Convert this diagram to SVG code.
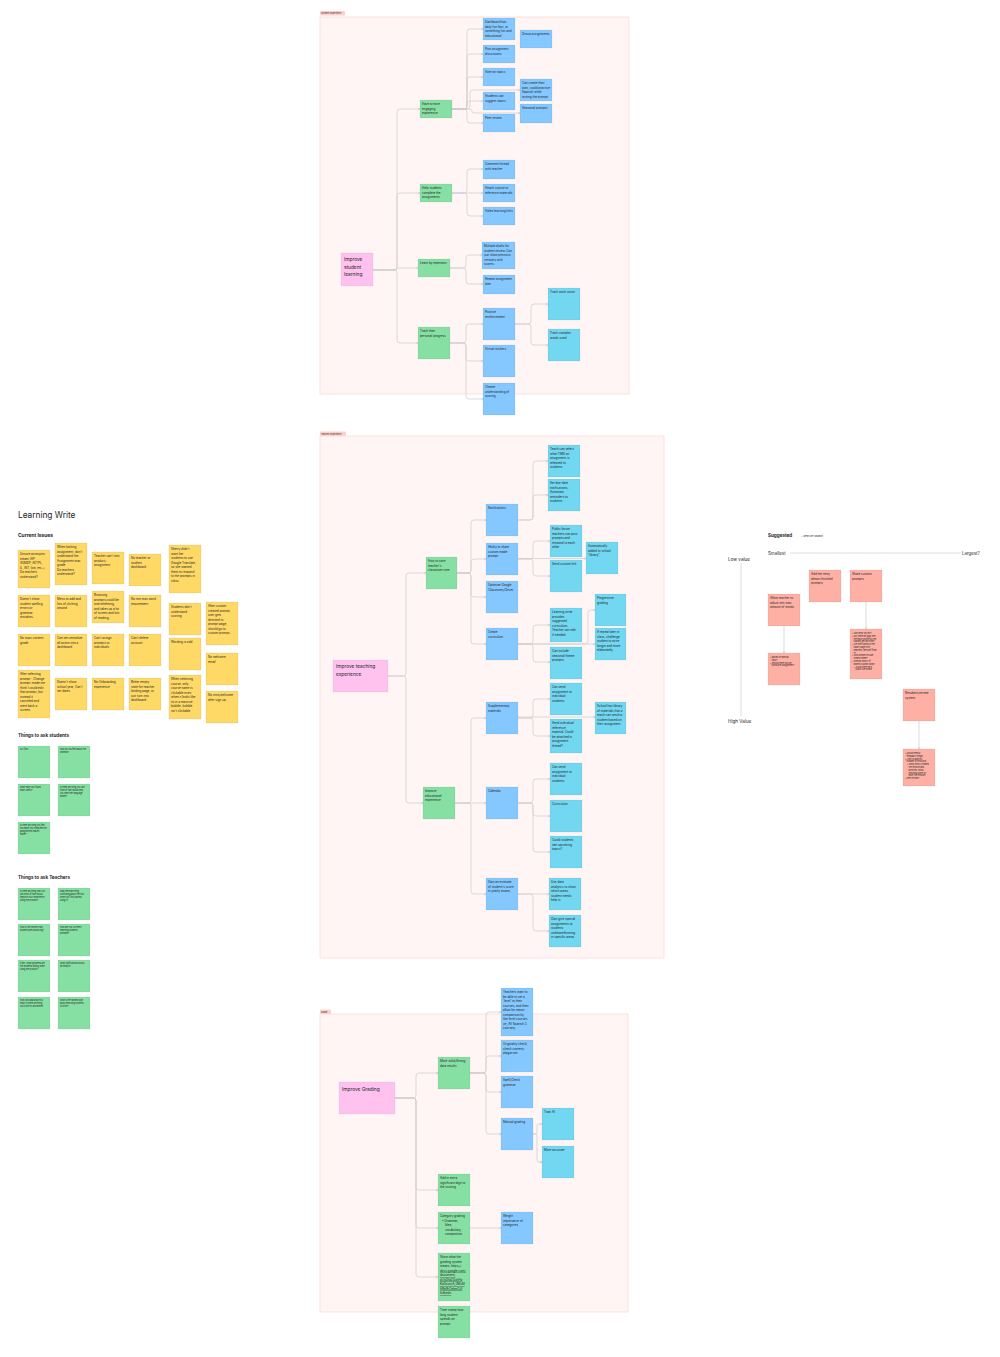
<svg xmlns="http://www.w3.org/2000/svg" width="1000" height="1357" viewBox="0 0 1000 1357">
<defs>
<style>
.fr{fill:#FFF5F4;stroke:#FDDAD5;stroke-width:0.8}
.tag{fill:#FFCFCA}
.tg{font-family:Inter,'Liberation Sans',sans-serif;font-size:2.2px;fill:#333}
.b{fill:#84C8FF;stroke:rgba(0,0,0,0.12);stroke-width:0.4}
.c{fill:#72D7F0;stroke:rgba(0,0,0,0.12);stroke-width:0.4}
.g{fill:#86E0A3;stroke:rgba(0,0,0,0.12);stroke-width:0.4}
.p{fill:#FFC1EE;stroke:rgba(0,0,0,0.1);stroke-width:0.4}
.y{fill:#FFD966;stroke:rgba(0,0,0,0.14);stroke-width:0.4}
.s{fill:#FFB0A5;stroke:rgba(0,0,0,0.14);stroke-width:0.4}
.t{font-family:Inter,'Liberation Sans',sans-serif;font-size:3px;fill:#1e1e1e}
.ts{font-family:Inter,'Liberation Sans',sans-serif;font-size:2.1px;fill:#1e1e1e}
.tp{font-family:Inter,'Liberation Sans',sans-serif;font-size:4.8px;fill:#1e1e1e}
.h{font-family:Inter,'Liberation Sans',sans-serif;font-weight:bold;fill:#1e1e1e}
.l{font-family:Inter,'Liberation Sans',sans-serif;fill:#1e1e1e}
.e{fill:none;stroke:#CDCDCD;stroke-width:0.7;marker-end:url(#ah)}
.ax{fill:none;stroke:#DADADA;stroke-width:0.9}
</style>
<marker id="ah" markerUnits="userSpaceOnUse" markerWidth="3" markerHeight="3" refX="2.6" refY="1.5" orient="auto">
<path d="M0.4,0.3 L2.6,1.5 L0.4,2.7" fill="none" stroke="#C4C4C4" stroke-width="0.5"/>
</marker>
</defs>
<rect width="1000" height="1357" fill="#FFFFFF"/>

<g id="frames">
<rect class="fr" x="320" y="17" width="309" height="377"/>
<rect class="tag" x="320" y="11" width="25" height="4.5" rx="1"/>
<text class="tg" x="321" y="14.2">Student Experience</text>
<rect class="fr" x="320" y="436" width="344" height="522"/>
<rect class="tag" x="320" y="431.5" width="26" height="4.5" rx="1"/>
<text class="tg" x="321" y="434.7">Teacher Experience</text>
<rect class="fr" x="320" y="1014" width="308" height="298"/>
<rect class="tag" x="320" y="1009.5" width="11" height="4.5" rx="1"/>
<text class="tg" x="321" y="1012.7">Grade</text>
</g>

<g id="connectors">
<path class="e" d="M373 270 H394 Q397 270 397 267 V112 Q397 109 400 109 H420"/>
<path class="e" d="M373 270 H394 Q397 270 397 267 V196 Q397 193 400 193 H420"/>
<path class="e" d="M373 270 H396 Q397 270 397 269 Q397 268 399 268 H418"/>
<path class="e" d="M373 270 H394 Q397 270 397 273 V340 Q397 343 400 343 H418"/>
<path class="e" d="M452 109 H464 Q467 109 467 106 V32 Q467 29 470 29 H483"/>
<path class="e" d="M452 109 H464 Q467 109 467 106 V57 Q467 54 470 54 H483"/>
<path class="e" d="M452 109 H464 Q467 109 467 106 V80 Q467 77 470 77 H483"/>
<path class="e" d="M452 109 H464 Q467 109 467 106 V104 Q467 101 470 101 H483"/>
<path class="e" d="M452 109 H464 Q467 109 467 112 V120 Q467 123 470 123 H483"/>
<path class="e" d="M452 109 H467 Q470 109 470 106 V93 Q470 90 473 90 H520"/>
<path class="e" d="M452 109 H469 Q472 109 472 111 Q472 113 474 113 H520"/>
<path class="e" d="M452 193 H464 Q467 193 467 190 V172 Q467 169 470 169 H483"/>
<path class="e" d="M452 193 H483"/>
<path class="e" d="M452 193 H464 Q467 193 467 196 V213 Q467 216 470 216 H483"/>
<path class="e" d="M450 268 H463 Q466 268 466 265 V258 Q466 255 469 255 H482"/>
<path class="e" d="M450 268 H463 Q466 268 466 271 V281 Q466 284 469 284 H483"/>
<path class="e" d="M450 343 H463 Q466 343 466 340 V327 Q466 324 469 324 H483"/>
<path class="e" d="M450 343 H463 Q466 343 466 346 V358 Q466 361 469 361 H483"/>
<path class="e" d="M450 343 H463 Q466 343 466 346 V396 Q466 399 469 399 H483"/>
<path class="e" d="M515 324 H528 Q531 324 531 321 V307 Q531 304 534 304 H548"/>
<path class="e" d="M515 324 H528 Q531 324 531 327 V342 Q531 345 534 345 H548"/>

<path class="e" d="M388 676 H403 Q406 676 406 673 V576 Q406 573 409 573 H426"/>
<path class="e" d="M388 676 H403 Q406 676 406 679 V800 Q406 803 409 803 H423"/>
<path class="e" d="M457 573 H468 Q471 573 471 570 V523 Q471 520 474 520 H486"/>
<path class="e" d="M457 573 H468 Q471 573 471 570 V562 Q471 559 474 559 H486"/>
<path class="e" d="M457 573 H468 Q471 573 471 576 V594 Q471 597 474 597 H486"/>
<path class="e" d="M457 573 H468 Q471 573 471 576 V641 Q471 644 474 644 H486"/>
<path class="e" d="M455 803 H468 Q471 803 471 800 V721 Q471 718 474 718 H486"/>
<path class="e" d="M455 803 H486"/>
<path class="e" d="M455 803 H468 Q471 803 471 806 V891 Q471 894 474 894 H486"/>
<path class="e" d="M518 520 H530 Q533 520 533 517 V464 Q533 461 536 461 H548"/>
<path class="e" d="M518 520 H530 Q533 520 533 517 V498 Q533 495 536 495 H548"/>
<path class="e" d="M518 559 H530 Q533 559 533 556 V544 Q533 541 536 541 H550"/>
<path class="e" d="M518 559 H530 Q533 559 533 562 V573 Q533 576 536 576 H550"/>
<path class="e" d="M518 558.5 H586"/>
<path class="e" d="M518 644 H530 Q533 644 533 641 V628 Q533 625 536 625 H550"/>
<path class="e" d="M518 644 H530 Q533 644 533 647 V659 Q533 662 536 662 H550"/>
<path class="e" d="M518 644 H585 Q588 644 588 641 V613 Q588 610 591 610 H595"/>
<path class="e" d="M518 644 H595"/>
<path class="e" d="M518 718 H530 Q533 718 533 715 V702 Q533 699 536 699 H550"/>
<path class="e" d="M518 718 H530 Q533 718 533 721 V733 Q533 736 536 736 H550"/>
<path class="e" d="M518 717 H595"/>
<path class="e" d="M518 803 H530 Q533 803 533 800 V782 Q533 779 536 779 H550"/>
<path class="e" d="M518 803 H530 Q533 803 533 806 V813 Q533 816 536 816 H550"/>
<path class="e" d="M518 803 H530 Q533 803 533 806 V849 Q533 852 536 852 H550"/>
<path class="e" d="M518 894 H549"/>
<path class="e" d="M518 894 H530 Q533 894 533 897 V928 Q533 931 536 931 H549"/>

<path class="e" d="M395 1098 H413 Q416 1098 416 1095 V1076 Q416 1073 419 1073 H438"/>
<path class="e" d="M395 1098 H413 Q416 1098 416 1101 V1187 Q416 1190 419 1190 H438"/>
<path class="e" d="M395 1098 H413 Q416 1098 416 1101 V1225 Q416 1228 419 1228 H438"/>
<path class="e" d="M395 1098 H413 Q416 1098 416 1101 V1274 Q416 1277 419 1277 H438"/>
<path class="e" d="M470 1073 H483 Q486 1073 486 1070 V1015 Q486 1012 489 1012 H501"/>
<path class="e" d="M470 1073 H483 Q486 1073 486 1070 V1059 Q486 1056 489 1056 H501"/>
<path class="e" d="M470 1073 H483 Q486 1073 486 1076 V1089 Q486 1092 489 1092 H501"/>
<path class="e" d="M470 1073 H483 Q486 1073 486 1076 V1131 Q486 1134 489 1134 H501"/>
<path class="e" d="M533 1134 H535 Q537 1134 537 1132 V1126 Q537 1124 539 1124 H542"/>
<path class="e" d="M533 1134 H535 Q537 1134 537 1136 V1160 Q537 1162 539 1162 H542"/>
<path class="e" d="M470 1228 H501"/>

<path class="e" d="M784 625 V653"/>
<path class="e" d="M866 601 V629"/>
<path class="e" d="M919 721 V749"/>
<path class="ax" d="M790 553 H961"/>
<path class="ax" d="M741 563 V716"/>
</g>

<!-- Student Experience -->
<g id="n-improve-student"><rect class="p" x="341" y="253" width="32" height="33"/><text class="tp" x="344" y="261"><tspan x="344">Improve</tspan><tspan x="344" dy="7.5">student</tspan><tspan x="344" dy="7.5">learning</tspan></text></g>
<g id="n-engaging"><rect class="g" x="420" y="100" width="32" height="18"/><text class="t" x="422" y="105"><tspan x="422">Have a more</tspan><tspan x="422" dy="4.5">engaging</tspan><tspan x="422" dy="4.5">experience</tspan></text></g>
<g id="n-help"><rect class="g" x="420" y="184" width="32" height="18"/><text class="t" x="422" y="189"><tspan x="422">Help students</tspan><tspan x="422" dy="4.5">complete the</tspan><tspan x="422" dy="4.5">assignments</tspan></text></g>
<g id="n-learn"><rect class="g" x="418" y="259" width="32" height="18"/><text class="t" x="420" y="264">Learn by repetition</text></g>
<g id="n-track"><rect class="g" x="418" y="327" width="32" height="32"/><text class="t" x="420" y="332"><tspan x="420">Track their</tspan><tspan x="420" dy="4.5">personal progress</tspan></text></g>
<g id="n-dashboard"><rect class="b" x="483" y="18" width="32" height="22"/><text class="t" x="485" y="23"><tspan x="485">Dashboard has</tspan><tspan x="485" dy="4.5">daily fun fact, or</tspan><tspan x="485" dy="4.5">something fun and</tspan><tspan x="485" dy="4.5">educational</tspan></text></g>
<g id="n-post"><rect class="b" x="483" y="45" width="32" height="18"/><text class="t" x="485" y="50"><tspan x="485">Post assignment</tspan><tspan x="485" dy="4.5">discussions</tspan></text></g>
<g id="n-vote"><rect class="b" x="483" y="68" width="32" height="18"/><text class="t" x="485" y="73">Vote on topics</text></g>
<g id="n-suggest"><rect class="b" x="483" y="92" width="32" height="18"/><text class="t" x="485" y="97"><tspan x="485">Students can</tspan><tspan x="485" dy="4.5">suggest topics</tspan></text></g>
<g id="n-peer"><rect class="b" x="483" y="114" width="32" height="18"/><text class="t" x="485" y="119">Peer review</text></g>
<g id="n-group"><rect class="b" x="520" y="30" width="32" height="18"/><text class="t" x="522" y="35">Group assignments</text></g>
<g id="n-create-own"><rect class="b" x="520" y="79" width="32" height="22"/><text class="t" x="522" y="84"><tspan x="522">Can create their</tspan><tspan x="522" dy="4.5">own, could practice</tspan><tspan x="522" dy="4.5">Spanish while</tspan><tspan x="522" dy="4.5">writing the prompt</tspan></text></g>
<g id="n-seasonal"><rect class="b" x="520" y="104" width="32" height="19"/><text class="t" x="522" y="109">Seasonal prompts</text></g>
<g id="n-comment"><rect class="b" x="483" y="160" width="32" height="19"/><text class="t" x="485" y="165"><tspan x="485">Comment thread</tspan><tspan x="485" dy="4.5">with teacher</tspan></text></g>
<g id="n-attach"><rect class="b" x="483" y="184" width="32" height="18"/><text class="t" x="485" y="189"><tspan x="485">Attach course or</tspan><tspan x="485" dy="4.5">reference materials</tspan></text></g>
<g id="n-video"><rect class="b" x="483" y="207" width="32" height="18"/><text class="t" x="485" y="212">Video learning links</text></g>
<g id="n-drafts"><rect class="b" x="482" y="242" width="33" height="27"/><text class="t" x="484" y="247"><tspan x="484">Multiple drafts for</tspan><tspan x="484" dy="4.5">student review. Can</tspan><tspan x="484" dy="4.5">just show previous</tspan><tspan x="484" dy="4.5">versions with</tspan><tspan x="484" dy="4.5">scores.</tspan></text></g>
<g id="n-repeat"><rect class="b" x="483" y="275" width="32" height="19"/><text class="t" x="485" y="280"><tspan x="485">Repeat assignment</tspan><tspan x="485" dy="4.5">later</tspan></text></g>
<g id="n-positive"><rect class="b" x="483" y="308" width="32" height="32"/><text class="t" x="485" y="313"><tspan x="485">Positive</tspan><tspan x="485" dy="4.5">reinforcement</tspan></text></g>
<g id="n-stickers"><rect class="b" x="483" y="345" width="32" height="32"/><text class="t" x="485" y="350">Virtual stickers</text></g>
<g id="n-clearer"><rect class="b" x="483" y="383" width="32" height="32"/><text class="t" x="485" y="388"><tspan x="485">Clearer</tspan><tspan x="485" dy="4.5">understanding of</tspan><tspan x="485" dy="4.5">scoring</tspan></text></g>
<g id="n-workcount"><rect class="c" x="548" y="288" width="32" height="32"/><text class="t" x="550" y="293">Track work count</text></g>
<g id="n-complex"><rect class="c" x="548" y="329" width="32" height="32"/><text class="t" x="550" y="334"><tspan x="550">Track complex</tspan><tspan x="550" dy="4.5">words used</tspan></text></g>

<!-- Teacher Experience -->
<g id="n-improve-teaching"><rect class="p" x="333" y="660" width="55" height="32"/><text class="tp" x="336" y="668"><tspan x="336">Improve teaching</tspan><tspan x="336" dy="7.5">experience</tspan></text></g>
<g id="n-save-time"><rect class="g" x="426" y="557" width="31" height="32"/><text class="t" x="428" y="562"><tspan x="428">How to save</tspan><tspan x="428" dy="4.5">teacher's</tspan><tspan x="428" dy="4.5">classroom time</tspan></text></g>
<g id="n-improve-edu"><rect class="g" x="423" y="787" width="32" height="32"/><text class="t" x="425" y="792"><tspan x="425">Improve</tspan><tspan x="425" dy="4.5">educational</tspan><tspan x="425" dy="4.5">experience</tspan></text></g>
<g id="n-notifications"><rect class="b" x="486" y="504" width="32" height="32"/><text class="t" x="488" y="509">Notifications</text></g>
<g id="n-share"><rect class="b" x="486" y="543" width="32" height="32"/><text class="t" x="488" y="548"><tspan x="488">Ability to share</tspan><tspan x="488" dy="4.5">custom made</tspan><tspan x="488" dy="4.5">prompt</tspan></text></g>
<g id="n-optimize"><rect class="b" x="486" y="581" width="32" height="32"/><text class="t" x="488" y="586"><tspan x="488">Optimize Google</tspan><tspan x="488" dy="4.5">Classroom/Clever</tspan></text></g>
<g id="n-curriculum-create"><rect class="b" x="486" y="628" width="32" height="32"/><text class="t" x="488" y="633"><tspan x="488">Create</tspan><tspan x="488" dy="4.5">curriculum</tspan></text></g>
<g id="n-supp"><rect class="b" x="486" y="702" width="32" height="32"/><text class="t" x="488" y="707"><tspan x="488">Supplementary</tspan><tspan x="488" dy="4.5">materials</tspan></text></g>
<g id="n-calendar"><rect class="b" x="486" y="787" width="32" height="32"/><text class="t" x="488" y="792">Calendar</text></g>
<g id="n-estimate"><rect class="b" x="486" y="878" width="32" height="32"/><text class="t" x="488" y="883"><tspan x="488">Gain an estimate</tspan><tspan x="488" dy="4.5">of student's score</tspan><tspan x="488" dy="4.5">in yearly exams</tspan></text></g>
<g id="n-time"><rect class="c" x="548" y="445" width="32" height="32"/><text class="t" x="550" y="450"><tspan x="550">Teach can select</tspan><tspan x="550" dy="4.5">what TIME an</tspan><tspan x="550" dy="4.5">assignment is</tspan><tspan x="550" dy="4.5">released to</tspan><tspan x="550" dy="4.5">students</tspan></text></g>
<g id="n-due"><rect class="c" x="548" y="479" width="32" height="32"/><text class="t" x="550" y="484"><tspan x="550">Set due date</tspan><tspan x="550" dy="4.5">notifications.</tspan><tspan x="550" dy="4.5">Automatic</tspan><tspan x="550" dy="4.5">reminders to</tspan><tspan x="550" dy="4.5">students</tspan></text></g>
<g id="n-forum"><rect class="c" x="550" y="525" width="32" height="32"/><text class="t" x="552" y="530"><tspan x="552">Public forum</tspan><tspan x="552" dy="4.5">teachers can post</tspan><tspan x="552" dy="4.5">prompts and</tspan><tspan x="552" dy="4.5">respond to each</tspan><tspan x="552" dy="4.5">other</tspan></text></g>
<g id="n-link"><rect class="c" x="550" y="560" width="32" height="32"/><text class="t" x="552" y="565">Send custom link</text></g>
<g id="n-library"><rect class="c" x="586" y="542" width="32" height="32"/><text class="t" x="588" y="547"><tspan x="588">Automatically</tspan><tspan x="588" dy="4.5">added to school</tspan><tspan x="588" dy="4.5">"library"</tspan></text></g>
<g id="n-suggested-curr"><rect class="c" x="550" y="608" width="32" height="34"/><text class="t" x="552" y="613"><tspan x="552">Learning write</tspan><tspan x="552" dy="4.5">provides</tspan><tspan x="552" dy="4.5">suggested</tspan><tspan x="552" dy="4.5">curriculum.</tspan><tspan x="552" dy="4.5">Teacher can edit</tspan><tspan x="552" dy="4.5">if needed.</tspan></text></g>
<g id="n-seasonal-theme"><rect class="c" x="550" y="647" width="32" height="32"/><text class="t" x="552" y="652"><tspan x="552">Can include</tspan><tspan x="552" dy="4.5">seasonal theme</tspan><tspan x="552" dy="4.5">prompts</tspan></text></g>
<g id="n-progressive"><rect class="c" x="595" y="594" width="31" height="32"/><text class="t" x="597" y="599"><tspan x="597">Progressive</tspan><tspan x="597" dy="4.5">grading</tspan></text></g>
<g id="n-repeat-later"><rect class="c" x="595" y="628" width="31" height="32"/><text class="t" x="597" y="633"><tspan x="597">If repeat later in</tspan><tspan x="597" dy="4.5">class, challenge</tspan><tspan x="597" dy="4.5">student to write</tspan><tspan x="597" dy="4.5">longer and more</tspan><tspan x="597" dy="4.5">elaborately.</tspan></text></g>
<g id="n-send-indiv-1"><rect class="c" x="550" y="683" width="32" height="32"/><text class="t" x="552" y="688"><tspan x="552">Can send</tspan><tspan x="552" dy="4.5">assignment to</tspan><tspan x="552" dy="4.5">individual</tspan><tspan x="552" dy="4.5">students</tspan></text></g>
<g id="n-send-ref"><rect class="c" x="550" y="719" width="32" height="34"/><text class="t" x="552" y="724"><tspan x="552">Send individual</tspan><tspan x="552" dy="4.5">reference</tspan><tspan x="552" dy="4.5">material. Could</tspan><tspan x="552" dy="4.5">be attached in</tspan><tspan x="552" dy="4.5">assignment</tspan><tspan x="552" dy="4.5">thread?</tspan></text></g>
<g id="n-school-library"><rect class="c" x="595" y="702" width="31" height="32"/><text class="t" x="597" y="707"><tspan x="597">School has library</tspan><tspan x="597" dy="4.5">of materials that a</tspan><tspan x="597" dy="4.5">teach can send to</tspan><tspan x="597" dy="4.5">student based on</tspan><tspan x="597" dy="4.5">their assignment</tspan></text></g>
<g id="n-send-indiv-2"><rect class="c" x="550" y="763" width="32" height="32"/><text class="t" x="552" y="768"><tspan x="552">Can send</tspan><tspan x="552" dy="4.5">assignment to</tspan><tspan x="552" dy="4.5">individual</tspan><tspan x="552" dy="4.5">students</tspan></text></g>
<g id="n-curriculum"><rect class="c" x="550" y="800" width="32" height="32"/><text class="t" x="552" y="805">Curriculum</text></g>
<g id="n-upcoming"><rect class="c" x="550" y="836" width="32" height="32"/><text class="t" x="552" y="841"><tspan x="552">Could students</tspan><tspan x="552" dy="4.5">see upcoming</tspan><tspan x="552" dy="4.5">topics?</tspan></text></g>
<g id="n-analytics"><rect class="c" x="549" y="878" width="32" height="32"/><text class="t" x="551" y="883"><tspan x="551">Use data</tspan><tspan x="551" dy="4.5">analytics to show</tspan><tspan x="551" dy="4.5">which areas</tspan><tspan x="551" dy="4.5">student needs</tspan><tspan x="551" dy="4.5">help in</tspan></text></g>
<g id="n-special"><rect class="c" x="549" y="915" width="32" height="32"/><text class="t" x="551" y="920"><tspan x="551">Gain give special</tspan><tspan x="551" dy="4.5">assignments to</tspan><tspan x="551" dy="4.5">students</tspan><tspan x="551" dy="4.5">underperforming</tspan><tspan x="551" dy="4.5">in specific areas</tspan></text></g>

<!-- Grade -->
<g id="n-improve-grading"><rect class="p" x="339" y="1082" width="56" height="32"/><text class="tp" x="342" y="1091">Improve Grading</text></g>
<g id="n-solid"><rect class="g" x="438" y="1057" width="32" height="32"/><text class="t" x="440" y="1062"><tspan x="440">More solid/Strong</tspan><tspan x="440" dy="4.5">data results</tspan></text></g>
<g id="n-digit"><rect class="g" x="438" y="1174" width="32" height="32"/><text class="t" x="440" y="1179"><tspan x="440">Add in extra</tspan><tspan x="440" dy="4.5">significant digit to</tspan><tspan x="440" dy="4.5">the scoring</tspan></text></g>
<g id="n-category"><rect class="g" x="438" y="1212" width="32" height="32"/><text class="t" x="440" y="1217"><tspan x="440">Category grading</tspan><tspan x="442" dy="4.5">• Grammar,</tspan><tspan x="445" dy="4.5">Idea,</tspan><tspan x="445" dy="4.5">vocabulary,</tspan><tspan x="445" dy="4.5">composition</tspan></text></g>
<g id="n-show"><rect class="g" x="438" y="1253" width="32" height="48"/><text class="t" x="440" y="1258"><tspan x="440">Show what the</tspan><tspan x="440" dy="4.5">grading system</tspan><tspan x="440" dy="4.5">means: https://</tspan><tspan x="440" dy="4.5" text-decoration="underline">docs.google.com/</tspan><tspan x="440" dy="4.5" text-decoration="underline">document/</tspan><tspan x="440" dy="4.5" text-decoration="underline">d/1yGfaZUuhHz</tspan><tspan x="440" dy="4.5" text-decoration="underline">Ka0xunxA_0MsM</tspan><tspan x="440" dy="4.5" text-decoration="underline">HRoRrCekmOJf</tspan><tspan x="440" dy="4.5" text-decoration="underline">fu8/edit</tspan></text></g>
<g id="n-timestamp"><rect class="g" x="438" y="1306" width="32" height="32"/><text class="t" x="440" y="1311"><tspan x="440">Time stamp how</tspan><tspan x="440" dy="4.5">long student</tspan><tspan x="440" dy="4.5">spends on</tspan><tspan x="440" dy="4.5">prompt</tspan></text></g>
<g id="n-level"><rect class="b" x="501" y="988" width="32" height="48"/><text class="t" x="503" y="993"><tspan x="503">Teachers want to</tspan><tspan x="503" dy="4.5">be able to set a</tspan><tspan x="503" dy="4.5">'level' to their</tspan><tspan x="503" dy="4.5">courses, and then</tspan><tspan x="503" dy="4.5">allow for report</tspan><tspan x="503" dy="4.5">comparison by</tspan><tspan x="503" dy="4.5">like level courses</tspan><tspan x="503" dy="4.5">(ie, All Spanish 3</tspan><tspan x="503" dy="4.5">courses)</tspan></text></g>
<g id="n-originality"><rect class="b" x="501" y="1040" width="32" height="32"/><text class="t" x="503" y="1045"><tspan x="503">Originality check,</tspan><tspan x="503" dy="4.5">check content/</tspan><tspan x="503" dy="4.5">plagiarism</tspan></text></g>
<g id="n-spell"><rect class="b" x="501" y="1076" width="32" height="32"/><text class="t" x="503" y="1081"><tspan x="503">Spell/Check</tspan><tspan x="503" dy="4.5">grammar</tspan></text></g>
<g id="n-manual"><rect class="b" x="501" y="1118" width="32" height="32"/><text class="t" x="503" y="1123">Manual grading</text></g>
<g id="n-weight"><rect class="b" x="501" y="1212" width="32" height="32"/><text class="t" x="503" y="1217"><tspan x="503">Weight</tspan><tspan x="503" dy="4.5">importance of</tspan><tspan x="503" dy="4.5">categories</tspan></text></g>
<g id="n-train"><rect class="c" x="542" y="1108" width="32" height="32"/><text class="t" x="544" y="1113">Train AI</text></g>
<g id="n-accurate"><rect class="c" x="542" y="1146" width="32" height="32"/><text class="t" x="544" y="1151">More accurate</text></g>

<!-- Left board -->
<text class="l" x="18" y="518" font-size="8.3">Learning Write</text>
<text class="h" x="18" y="537" font-size="4.9">Current Issues</text>
<g id="y1"><rect class="y" x="18" y="550" width="32" height="38"/><text class="t" x="20" y="555"><tspan x="20">Unsure acronyms</tspan><tspan x="20" dy="4.5">meant (AP,</tspan><tspan x="20" dy="4.5">SDM#P, AETPL,</tspan><tspan x="20" dy="4.5">IL, INT, low, etc..)</tspan><tspan x="20" dy="4.5">Do teachers</tspan><tspan x="20" dy="4.5">understand?</tspan></text></g>
<g id="y2"><rect class="y" x="55" y="543" width="32" height="42"/><text class="t" x="57" y="548"><tspan x="57">When looking</tspan><tspan x="57" dy="4.5">assignment, don't</tspan><tspan x="57" dy="4.5">understand the</tspan><tspan x="57" dy="4.5">Assignment max</tspan><tspan x="57" dy="4.5">grade</tspan><tspan x="57" dy="4.5">Do teachers</tspan><tspan x="57" dy="4.5">understand?</tspan></text></g>
<g id="y3"><rect class="y" x="92" y="552" width="32" height="32"/><text class="t" x="94" y="557"><tspan x="94">Teacher can't test</tspan><tspan x="94" dy="4.5">product/</tspan><tspan x="94" dy="4.5">assignment</tspan></text></g>
<g id="y4"><rect class="y" x="129" y="554" width="32" height="32"/><text class="t" x="131" y="559"><tspan x="131">No teacher or</tspan><tspan x="131" dy="4.5">student</tspan><tspan x="131" dy="4.5">dashboard</tspan></text></g>
<g id="y5"><rect class="y" x="169" y="545" width="32" height="48"/><text class="t" x="171" y="550"><tspan x="171">Sherry didn't</tspan><tspan x="171" dy="4.5">want her</tspan><tspan x="171" dy="4.5">students to use</tspan><tspan x="171" dy="4.5">Google Translate,</tspan><tspan x="171" dy="4.5">so she wanted</tspan><tspan x="171" dy="4.5">them to respond</tspan><tspan x="171" dy="4.5">to the prompts in</tspan><tspan x="171" dy="4.5">class.</tspan></text></g>
<g id="y6"><rect class="y" x="18" y="595" width="32" height="32"/><text class="t" x="20" y="600"><tspan x="20">Doesn't show</tspan><tspan x="20" dy="4.5">student spelling</tspan><tspan x="20" dy="4.5">errors or</tspan><tspan x="20" dy="4.5">grammar</tspan><tspan x="20" dy="4.5">mistakes.</tspan></text></g>
<g id="y7"><rect class="y" x="55" y="595" width="32" height="32"/><text class="t" x="57" y="600"><tspan x="57">Menu to add and</tspan><tspan x="57" dy="4.5">lots of clicking</tspan><tspan x="57" dy="4.5">around</tspan></text></g>
<g id="y8"><rect class="y" x="92" y="591" width="32" height="32"/><text class="t" x="94" y="596"><tspan x="94">Browsing</tspan><tspan x="94" dy="4.5">prompts could be</tspan><tspan x="94" dy="4.5">overwhelming,</tspan><tspan x="94" dy="4.5">and takes up a lot</tspan><tspan x="94" dy="4.5">of screen and lots</tspan><tspan x="94" dy="4.5">of reading.</tspan></text></g>
<g id="y9"><rect class="y" x="129" y="595" width="32" height="32"/><text class="t" x="131" y="600"><tspan x="131">No min max word</tspan><tspan x="131" dy="4.5">requirement</tspan></text></g>
<g id="y10"><rect class="y" x="169" y="603" width="32" height="32"/><text class="t" x="171" y="608"><tspan x="171">Students don't</tspan><tspan x="171" dy="4.5">understand</tspan><tspan x="171" dy="4.5">scoring</tspan></text></g>
<g id="y11"><rect class="y" x="206" y="602" width="32" height="43"/><text class="t" x="208" y="607"><tspan x="208">After custom</tspan><tspan x="208" dy="4.5">created prompt,</tspan><tspan x="208" dy="4.5">user gets</tspan><tspan x="208" dy="4.5">directed to</tspan><tspan x="208" dy="4.5">prompt page,</tspan><tspan x="208" dy="4.5">should go to</tspan><tspan x="208" dy="4.5">custom prompt.</tspan></text></g>
<g id="y12"><rect class="y" x="18" y="634" width="32" height="32"/><text class="t" x="20" y="639"><tspan x="20">No topic content</tspan><tspan x="20" dy="4.5">grade</tspan></text></g>
<g id="y13"><rect class="y" x="55" y="634" width="32" height="32"/><text class="t" x="57" y="639"><tspan x="57">Can we centralize</tspan><tspan x="57" dy="4.5">all action into a</tspan><tspan x="57" dy="4.5">dashboard</tspan></text></g>
<g id="y14"><rect class="y" x="92" y="634" width="32" height="32"/><text class="t" x="94" y="639"><tspan x="94">Can't assign</tspan><tspan x="94" dy="4.5">prompts to</tspan><tspan x="94" dy="4.5">individuals</tspan></text></g>
<g id="y15"><rect class="y" x="129" y="634" width="32" height="32"/><text class="t" x="131" y="639"><tspan x="131">Can't delete</tspan><tspan x="131" dy="4.5">account</tspan></text></g>
<g id="y16"><rect class="y" x="169" y="638" width="32" height="32"/><text class="t" x="171" y="643">Wording is odd</text></g>
<g id="y17"><rect class="y" x="206" y="653" width="32" height="32"/><text class="t" x="208" y="658"><tspan x="208">No welcome</tspan><tspan x="208" dy="4.5">email</tspan></text></g>
<g id="y18"><rect class="y" x="18" y="670" width="32" height="48"/><text class="t" x="20" y="675"><tspan x="20">After selecting</tspan><tspan x="20" dy="4.5">prompt - Change</tspan><tspan x="20" dy="4.5">prompt: made me</tspan><tspan x="20" dy="4.5">think I could edit</tspan><tspan x="20" dy="4.5">that prompt, but</tspan><tspan x="20" dy="4.5">instead it</tspan><tspan x="20" dy="4.5">canceled and</tspan><tspan x="20" dy="4.5">went back a</tspan><tspan x="20" dy="4.5">screen.</tspan></text></g>
<g id="y19"><rect class="y" x="55" y="678" width="32" height="32"/><text class="t" x="57" y="683"><tspan x="57">Doesn't show</tspan><tspan x="57" dy="4.5">school year, Can't</tspan><tspan x="57" dy="4.5">set dates</tspan></text></g>
<g id="y20"><rect class="y" x="92" y="678" width="32" height="32"/><text class="t" x="94" y="683"><tspan x="94">No Onboarding</tspan><tspan x="94" dy="4.5">experience</tspan></text></g>
<g id="y21"><rect class="y" x="129" y="678" width="32" height="32"/><text class="t" x="131" y="683"><tspan x="131">Better empty</tspan><tspan x="131" dy="4.5">state for teacher</tspan><tspan x="131" dy="4.5">landing page, or</tspan><tspan x="131" dy="4.5">just turn into</tspan><tspan x="131" dy="4.5">dashboard</tspan></text></g>
<g id="y22"><rect class="y" x="169" y="675" width="32" height="44"/><text class="t" x="171" y="680"><tspan x="171">When selecting</tspan><tspan x="171" dy="4.5">course, only</tspan><tspan x="171" dy="4.5">course name is</tspan><tspan x="171" dy="4.5">clickable even</tspan><tspan x="171" dy="4.5">when it looks like</tspan><tspan x="171" dy="4.5">its in a massive</tspan><tspan x="171" dy="4.5">bubble, bubble</tspan><tspan x="171" dy="4.5">isn't clickable</tspan></text></g>
<g id="y23"><rect class="y" x="206" y="691" width="32" height="32"/><text class="t" x="208" y="696"><tspan x="208">No intro/welcome</tspan><tspan x="208" dy="4.5">after sign up</tspan></text></g>

<text class="h" x="18" y="737" font-size="4.6">Things to ask students</text>
<g id="qs1"><rect class="g" x="18" y="746" width="32" height="32"/><text class="ts" x="20" y="750">Is it fun?</text></g>
<g id="qs2"><rect class="g" x="58" y="746" width="32" height="32"/><text class="ts" x="60" y="750"><tspan x="60">How do you feel about the</tspan><tspan x="60" dy="3">prompts?</tspan></text></g>
<g id="qs3"><rect class="g" x="18" y="784" width="32" height="32"/><text class="ts" x="20" y="788"><tspan x="20">What have you found</tspan><tspan x="20" dy="3">most useful?</tspan></text></g>
<g id="qs4"><rect class="g" x="58" y="784" width="32" height="32"/><text class="ts" x="60" y="788"><tspan x="60">Is there anything you can</tspan><tspan x="60" dy="3">think of that would help</tspan><tspan x="60" dy="3">you learn the language</tspan><tspan x="60" dy="3">easier?</tspan></text></g>
<g id="qs5"><rect class="g" x="18" y="822" width="32" height="32"/><text class="ts" x="20" y="826"><tspan x="20">Is there anything you feel</tspan><tspan x="20" dy="3">will make you complete the</tspan><tspan x="20" dy="3">assignments easier/</tspan><tspan x="20" dy="3">faster?</tspan></text></g>

<text class="h" x="18" y="878.5" font-size="4.6">Things to ask Teachers</text>
<g id="qt1"><rect class="g" x="18" y="888" width="32" height="32"/><text class="ts" x="20" y="892"><tspan x="20">Is there anything that you</tspan><tspan x="20" dy="3">can think of that would</tspan><tspan x="20" dy="3">improve your experience</tspan><tspan x="20" dy="3">using the product?</tspan></text></g>
<g id="qt2"><rect class="g" x="58" y="888" width="32" height="32"/><text class="ts" x="60" y="892"><tspan x="60">Was there anything</tspan><tspan x="60" dy="3">confusing about the tool</tspan><tspan x="60" dy="3">when you first started</tspan><tspan x="60" dy="3">using it?</tspan></text></g>
<g id="qt3"><rect class="g" x="18" y="924" width="32" height="32"/><text class="ts" x="20" y="928"><tspan x="20">How is the content that</tspan><tspan x="20" dy="3">students are producing?</tspan></text></g>
<g id="qt4"><rect class="g" x="58" y="924" width="32" height="32"/><text class="ts" x="60" y="928"><tspan x="60">How are you currently</tspan><tspan x="60" dy="3">teaching students</tspan><tspan x="60" dy="3">prompts?</tspan></text></g>
<g id="qt5"><rect class="g" x="18" y="960" width="32" height="32"/><text class="ts" x="20" y="964"><tspan x="20">If any, what problems are</tspan><tspan x="20" dy="3">the students facing when</tspan><tspan x="20" dy="3">using the product?</tspan></text></g>
<g id="qt6"><rect class="g" x="58" y="960" width="32" height="32"/><text class="ts" x="60" y="964"><tspan x="60">What notifications would</tspan><tspan x="60" dy="3">be helpful?</tspan></text></g>
<g id="qt7"><rect class="g" x="18" y="997" width="32" height="32"/><text class="ts" x="20" y="1001"><tspan x="20">How can data analytics</tspan><tspan x="20" dy="3">help? Is there anything</tspan><tspan x="20" dy="3">you'd like to document?</tspan></text></g>
<g id="qt8"><rect class="g" x="58" y="997" width="32" height="32"/><text class="ts" x="60" y="1001"><tspan x="60">What's the hardest part</tspan><tspan x="60" dy="3">about teaching students</tspan><tspan x="60" dy="3">to write?</tspan></text></g>

<!-- Matrix -->
<text class="h" x="768" y="537" font-size="4.6">Suggested</text>
<text class="l" x="801" y="536.5" font-size="1.9">— Needs user validation</text>
<text class="l" x="768" y="555" font-size="4.4">Smallest</text>
<text class="l" x="962" y="555" font-size="4.4">Largest?</text>
<text class="l" x="728" y="561" font-size="4.6">Low value</text>
<text class="l" x="728" y="723" font-size="4.6">High Value</text>
<g id="m-minmax"><rect class="s" x="768" y="594" width="32" height="32"/><text class="t" x="770" y="599"><tspan x="770">Allow teacher to</tspan><tspan x="770" dy="4.5">adjust min max</tspan><tspan x="770" dy="4.5">amount of words</tspan></text></g>
<g id="m-new"><rect class="s" x="809" y="570" width="32" height="32"/><text class="t" x="811" y="575"><tspan x="811">Add the new/</tspan><tspan x="811" dy="4.5">almost finished</tspan><tspan x="811" dy="4.5">prompts</tspan></text></g>
<g id="m-share"><rect class="s" x="850" y="570" width="32" height="32"/><text class="t" x="852" y="575"><tspan x="852">Share custom</tspan><tspan x="852" dy="4.5">prompts</tspan></text></g>
<g id="m-minmax-notes"><rect class="s" x="768" y="653" width="32" height="32"/><text class="ts" x="770" y="658"><tspan x="770">• Based on manual</tspan><tspan x="771.5" dy="2.8">input?</tspan><tspan x="770" dy="2.8">• Should there just be</tspan><tspan x="771.5" dy="2.8">words per assignment?</tspan></text></g>
<g id="m-share-notes"><rect class="s" x="850" y="629" width="32" height="50"/><text class="ts" x="852" y="634"><tspan x="852">• Can send via link?</tspan><tspan x="852" dy="2.8">• Will there be tags with</tspan><tspan x="853.5" dy="2.8">the teach profile so the</tspan><tspan x="853.5" dy="2.8">classes get archived?</tspan><tspan x="852" dy="2.8">• Are they saved to the</tspan><tspan x="853.5" dy="2.8">library page with</tspan><tspan x="853.5" dy="2.8">teachers, see prof from</tspan><tspan x="853.5" dy="2.8">it?</tspan><tspan x="852" dy="2.8">• Who/simple include</tspan><tspan x="853.5" dy="2.8">creator name?</tspan><tspan x="852" dy="2.8">• Internal library of</tspan><tspan x="853.5" dy="2.8">shared custom library</tspan><tspan x="854" dy="2.8">◦ Could there be a</tspan><tspan x="855.5" dy="2.8">public site brand</tspan></text></g>
<g id="m-resubmit"><rect class="s" x="903" y="689" width="32" height="32"/><text class="t" x="905" y="694"><tspan x="905">Resubmit/review</tspan><tspan x="905" dy="4.5">system</tspan></text></g>
<g id="m-resubmit-notes"><rect class="s" x="903" y="749" width="32" height="37"/><text class="ts" x="905" y="754"><tspan x="905">• Would need a</tspan><tspan x="906.5" dy="2.8">feedback thread</tspan><tspan x="905" dy="2.8">• Limit to specific</tspan><tspan x="906.5" dy="2.8">number of revisions</tspan><tspan x="907" dy="2.8">◦ Show who's created</tspan><tspan x="908.5" dy="2.8">the revision and</tspan><tspan x="908.5" dy="2.8">archives. Show</tspan><tspan x="908.5" dy="2.8">resulting score by</tspan><tspan x="908.5" dy="2.8">each file revision</tspan><tspan x="905" dy="2.8">• Peer review?</tspan></text></g>
</svg>
